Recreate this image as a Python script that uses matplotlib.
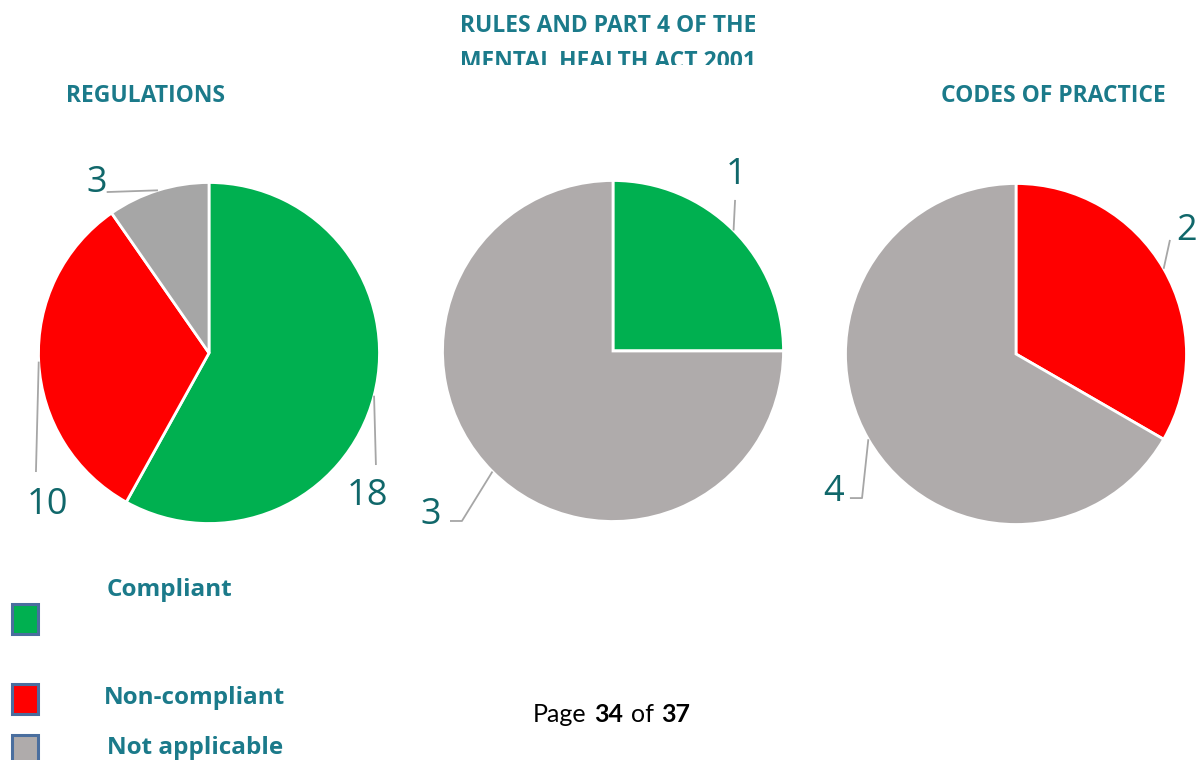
import math
import matplotlib
matplotlib.use("Agg")
import matplotlib.pyplot as plt
from matplotlib.patches import Rectangle
from matplotlib.text import Annotation

# ------------------------------------------------------------------ #
#                      compliance counts per area                    #
# ------------------------------------------------------------------ #

categories = ['Compliant', 'Non-compliant', 'Not applicable']
regulations = [18, 10, 3]
rules_part4 = [1, 0, 3]
codes_practice = [0, 2, 4]

titles = ['REGULATIONS', ['RULES AND PART 4 OF THE', 'MENTAL HEALTH ACT 2001'], 'CODES OF PRACTICE']

green = '#00B050'
red = '#FF0000'
grey_a = '#A6A6A6'
grey_b = '#AFABAB'
teal = '#1B7A8A'
num_col = '#10676A'
lead_col = '#A6A6A6'

W, H = 1200, 760
fig = plt.figure(figsize=(12, 7.6), dpi=100)
fig.patch.set_facecolor('white')

R_PX = 170.5   # pie radius in pixels
HALF = 200     # half size of each pie axes in pixels


def pie_axes(cx, cy):
    ax = fig.add_axes([(cx - HALF) / W, (H - cy - HALF) / H, 2 * HALF / W, 2 * HALF / H])
    ax.axis('off')
    return ax


def draw_pie(ax, values, colors, labels):
    # labels: (slice index, text xy, leader path) in radius units
    ax.pie(values, colors=colors, startangle=90, counterclock=False, radius=1.0,
           wedgeprops=dict(edgecolor='white', linewidth=2.0))
    lim = HALF / R_PX
    ax.set_xlim(-lim, lim)
    ax.set_ylim(-lim, lim)
    ax.set_aspect('equal')

    # mid angle of every slice, for the leader lines
    total = float(sum(values))
    start = 90.0
    mids = []
    for v in values:
        span = 360.0 * v / total
        mids.append(start - span / 2.0)
        start -= span

    for idx, txy, path in labels:
        a = math.radians(mids[idx])
        xs = [math.cos(a)] + [p[0] for p in path]
        ys = [math.sin(a)] + [p[1] for p in path]
        ax.plot(xs, ys, color=lead_col, lw=1.3, solid_capstyle='butt', clip_on=False)
        ax.text(txy[0], txy[1] - 0.03, str(values[idx]), ha='center', va='center',
                fontsize=26, color=num_col, family='Open Sans', clip_on=False)


ax1 = pie_axes(209, 353)
draw_pie(ax1, regulations, [green, red, grey_a], [
    (2, (-0.66, 1.03), [(-0.60, 0.944)]),
    (1, (-0.95, -0.86), [(-1.015, -0.698)]),
    (0, (0.93, -0.81), [(0.979, -0.657)]),
])

ax2 = pie_axes(613, 351)
draw_pie(ax2, rules_part4, [green, red, grey_b], [
    (0, (0.72, 1.06), [(0.716, 0.886)]),
    (2, (-1.07, -0.93), [(-0.886, -0.997), (-0.956, -0.997)]),
])

ax3 = pie_axes(1016, 354)
draw_pie(ax3, codes_practice, [green, red, grey_b], [
    (1, (1.0, 0.75), [(0.903, 0.669)]),
    (2, (-1.07, -0.78), [(-0.903, -0.845), (-0.974, -0.845)]),
])

# titles
fig.text(146 / W, 1 - 96 / H, titles[0], ha='center', va='center', fontsize=16.5,
         fontweight='bold', color=teal, family='Open Sans')
fig.text(1053 / W, 1 - 96 / H, titles[2], ha='center', va='center', fontsize=16.5,
         fontweight='bold', color=teal, family='Open Sans')

# middle title sits in a box that cuts off the second line
tax = fig.add_axes([0, 1 - 65 / H, 1, 65 / H])
tax.axis('off')
for line, ly in zip(titles[1], [26, 62]):
    tax.text(608 / W, 1 - ly / H, line, ha='center', va='center', fontsize=16.5,
             fontweight='bold', color=teal, family='Open Sans',
             transform=fig.transFigure, clip_on=True)

# legend swatches
sw_x, sw_w, sw_h = 12, 26, 30
for col, ytop in [(green, 604), (red, 684), (grey_b, 735)]:
    fig.patches.append(Rectangle((sw_x / W, 1 - (ytop + sw_h) / H), sw_w / W, sw_h / H,
                                 transform=fig.transFigure, facecolor=col,
                                 edgecolor='#4A6E9E', linewidth=2.2, figure=fig))
for lab, lx, ly in [(categories[0], 107, 590), (categories[1], 104, 698), (categories[2], 107, 748)]:
    fig.text(lx / W, 1 - ly / H, lab, ha='left', va='center', fontsize=17.5,
             fontweight='bold', color=teal, family='Open Sans')

# page footer
t = fig.text(533 / W, 1 - 714 / H, 'Page', ha='left', va='center', fontsize=18,
             color='black', family='Lato')
for word, wt in [('34', 'bold'), ('of', 'normal'), ('37', 'bold')]:
    t = fig.add_artist(Annotation(
        word, xy=(1, 0.5), xycoords=t, xytext=(5.5, 0), textcoords='offset points',
        ha='left', va='center', fontsize=18, fontweight=wt, color='black', family='Lato'))

fig.savefig('out.png', dpi=100, facecolor='white')
plt.close(fig)
